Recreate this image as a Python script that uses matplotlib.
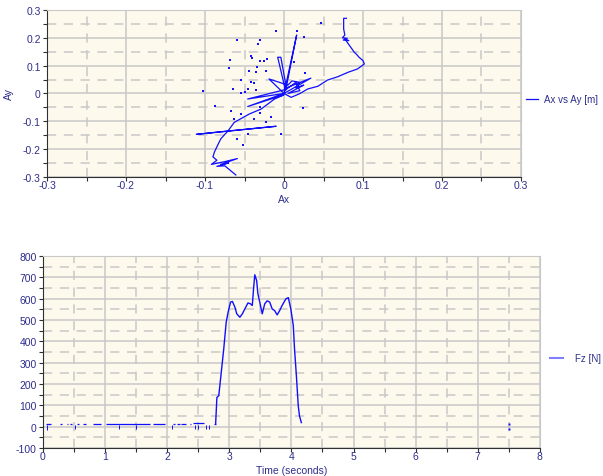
import numpy as np
import matplotlib
matplotlib.use("Agg")
import matplotlib.pyplot as plt
from matplotlib.ticker import MultipleLocator

plt.rcParams['font.family'] = ['Liberation Sans', 'DejaVu Sans']
plt.rcParams['axes.unicode_minus'] = False

# top panel: trajectory Ax vs Ay (spikes included in the path)
path_x = [0.079, 0.0755, 0.0755, 0.077, 0.074, 0.080, 0.075, 0.082, 0.077, 0.083, 0.086, 0.089,
          0.092, 0.095, 0.0975, 0.100, 0.1017, 0.093, 0.081, 0.068, 0.055, 0.043, 0.030, 0.019,
          0.009, 0.000, 0.016, 0.002, -0.008, -0.004, 0.003, 0.034, 0.000, -0.019, 0.005, 0.010,
          0.020, 0.015, 0.025, 0.005, 0.020, 0.015, 0.003, -0.046, 0.000, -0.046, 0.000, -0.012,
          -0.029, -0.044, -0.063, -0.071, -0.111, -0.010, -0.071, -0.080, -0.084, -0.088, -0.090,
          -0.085, -0.092, -0.075, -0.059, -0.080, -0.070, -0.085, -0.075, -0.061]
path_y = [0.270, 0.270, 0.232, 0.210, 0.200, 0.198, 0.192, 0.190, 0.196, 0.172, 0.160, 0.148,
          0.140, 0.130, 0.124, 0.118, 0.106, 0.088, 0.076, 0.060, 0.048, 0.026, 0.016, -0.002,
          -0.014, 0.000, 0.210, 0.010, 0.130, 0.130, 0.020, 0.055, 0.000, 0.052, 0.030, 0.045,
          0.040, 0.020, 0.030, 0.000, 0.010, 0.040, 0.015, -0.020, 0.000, -0.047, -0.005, -0.020,
          -0.056, -0.074, -0.104, -0.135, -0.147, -0.118, -0.135, -0.163, -0.186, -0.210, -0.228,
          -0.240, -0.255, -0.245, -0.234, -0.255, -0.250, -0.262, -0.260, -0.293]

dots_x = [-0.059, -0.010, 0.0165, 0.047, -0.031, -0.0325, -0.069, -0.070, -0.042, -0.041, -0.030,
          -0.025, -0.0215, -0.034, -0.023, -0.044, -0.035, -0.054, -0.042, -0.0376, -0.046, -0.064,
          -0.050, -0.035, -0.103, -0.087, -0.067, -0.031, -0.016, -0.023, -0.004, -0.059, -0.052,
          0.024, 0.013, 0.026, 0.025, -0.063, -0.038, -0.054, -0.031, -0.054, -0.046, -0.004]
dots_y = [0.192, 0.224, 0.224, 0.252, 0.192, 0.176, 0.120, 0.092, 0.136, 0.127, 0.118,
          0.118, 0.124, 0.094, 0.082, 0.082, 0.076, 0.049, 0.040, 0.038, 0.016, 0.016,
          0.004, 0.014, 0.010, -0.046, -0.062, -0.071, -0.085, -0.101, -0.146, -0.164, -0.184,
          -0.053, 0.112, 0.074, 0.202, -0.092, -0.092, -0.074, -0.050, 0.002, -0.146, -0.146]

# bottom panel: Fz over time
fz_t = [2.78, 2.80, 2.83, 2.87, 2.91, 2.95, 2.98, 3.02, 3.05, 3.09, 3.12, 3.17, 3.21, 3.25,
        3.30, 3.34, 3.37, 3.39, 3.41, 3.44, 3.46, 3.49, 3.53, 3.57, 3.61, 3.65, 3.69, 3.73,
        3.77, 3.81, 3.85, 3.91, 3.95, 3.99, 4.03, 4.05, 4.08, 4.11, 4.13, 4.16]
fz_f = [16, 137, 145, 254, 364, 490, 536, 584, 587, 560, 529, 513, 529, 552,
        580, 576, 568, 646, 712, 685, 623, 584, 529, 576, 590, 584, 552, 544,
        524, 544, 568, 599, 605, 552, 474, 364, 238, 97, 50, 19]

# noisy resting signal before the jump: short fragments
base_t0 = [0.055, 0.27, 0.38, 0.43, 0.54, 0.64, 0.80, 1.02, 1.77, 2.10, 2.15, 2.23, 2.36, 2.42, 2.76]
base_t1 = [0.135, 0.31, 0.40, 0.47, 0.58, 0.70, 0.94, 1.72, 1.96, 2.12, 2.20, 2.31, 2.39, 2.60, 2.79]
base_f = [11, 11, 11, 11, 11, 11, 11, 12, 12, 11, 11, 11, 11, 18, 14]
dip_t = [0.06, 0.51, 1.23, 1.50, 2.08, 2.45, 2.50, 2.62, 2.68]
dip_f = [-15, -12, -12, -12, -12, -12, -12, -12, -12]
late_t = [7.51, 7.51]
late_f = [14, -12]

bg = '#fdf9ec'
txt = '#2e2e8c'
blue = '#1010ff'


def style(ax, xmaj, xmin, ymaj, ymin):
    ax.set_facecolor(bg)
    ax.xaxis.set_major_locator(MultipleLocator(xmaj))
    ax.xaxis.set_minor_locator(MultipleLocator(xmin))
    ax.yaxis.set_major_locator(MultipleLocator(ymaj))
    ax.yaxis.set_minor_locator(MultipleLocator(ymin))
    ax.grid(which='major', color='#c8c8c8', lw=1.1, ls='-')
    ax.grid(which='minor', color='#c8c8c8', lw=1.1, ls=(0, (6, 5)))
    ax.set_axisbelow(True)
    for s in ['top', 'right']:
        ax.spines[s].set_color('#c8c8c8')
    for s in ['left', 'bottom']:
        ax.spines[s].set_color('#303030')
    ax.tick_params(which='both', direction='out', length=3, width=0.8, color='#303030',
                   labelsize=7.5, labelcolor=txt)
    ax.tick_params(axis='x', which='both', pad=-1)
    ax.tick_params(axis='y', which='both', pad=1.5)


fig = plt.figure(figsize=(6.03, 4.77), dpi=100)

ax1 = fig.add_axes([0.078, 0.627, 0.786, 0.350])
style(ax1, 0.1, 0.05, 0.1, 0.05)
ax1.plot(path_x, path_y, color=blue, lw=0.9, label='Ax vs Ay [m]')
ax1.plot(dots_x, dots_y, ls='none', marker='s', ms=1.6, mew=0, color=blue)
ax1.set_xlim(-0.3, 0.3)
ax1.set_ylim(-0.3, 0.3)
ax1.set_xticks([-0.3, -0.2, -0.1, 0, 0.1, 0.2, 0.3])
ax1.set_xticklabels(['-0.3', '-0.2', '-0.1', '0', '0.1', '0.2', '0.3'])
ax1.set_yticklabels([f'{v:g}' for v in ax1.get_yticks()])
ax1.set_xlabel('Ax', fontsize=7.5, color=txt, labelpad=3)
ax1.set_ylabel('Ay', fontsize=7.5, color=txt, labelpad=6)
ax1.legend(loc='center left', bbox_to_anchor=(1.01, 0.467), frameon=False, fontsize=7,
           handlelength=1.3, handletextpad=0.6, borderpad=0, borderaxespad=0, labelcolor=txt)

ax2 = fig.add_axes([0.0713, 0.0587, 0.824, 0.4025])
style(ax2, 1, 0.5, 100, 50)
ax2.plot(fz_t, fz_f, color=blue, lw=1.0)
ax2.hlines(base_f, base_t0, base_t1, color=blue, lw=0.9)
ax2.vlines(dip_t, dip_f, 8, color=blue, lw=0.7)
ax2.plot(late_t, late_f, ls='none', marker='s', ms=1.4, mew=0, color=blue)
ax2.plot([], [], color='#8080ff', lw=1.5, label='Fz [N]')
ax2.set_xlim(0, 8)
ax2.set_ylim(-100, 800)
ax2.set_xlabel('Time (seconds)', fontsize=7.5, color=txt, labelpad=3)
ax2.legend(loc='center left', bbox_to_anchor=(1.02, 0.469), frameon=False, fontsize=7,
           handlelength=1.4, handletextpad=1.2, borderpad=0, borderaxespad=0, labelcolor=txt)

fig.savefig('out.png', dpi=100)
